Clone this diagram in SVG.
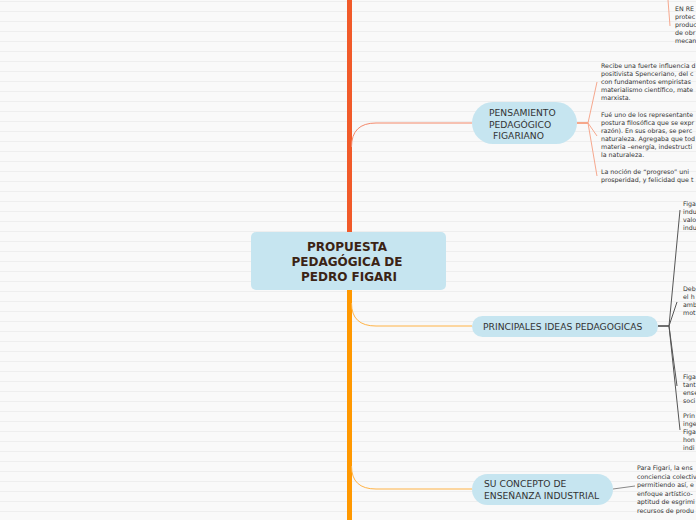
<svg xmlns="http://www.w3.org/2000/svg" width="696" height="520" viewBox="0 0 696 520">
<defs>
<pattern id="bg" width="10" height="10" patternUnits="userSpaceOnUse">
<rect width="10" height="10" fill="#f9f9f9"/>
<rect y="1" width="10" height="1" fill="#eeeeee"/>
</pattern>
<style>
.node{fill:#c6e5f0}
.lbl{font-family:"DejaVu Sans",Verdana,sans-serif;font-size:9.2px;fill:#333}
.root{font-family:"DejaVu Sans",Verdana,sans-serif;font-size:12px;font-weight:bold;fill:#3b2314;text-anchor:middle}
.sm{font-family:"DejaVu Sans",Verdana,sans-serif;font-size:6.3px;fill:#333}
.c1{fill:none;stroke:#f4896b;stroke-width:1}
.c2{fill:none;stroke:#ffb347;stroke-width:1}
.f1{fill:none;stroke:#f6a88e;stroke-width:1}
.f2{fill:none;stroke:#555;stroke-width:1}
.f3{fill:none;stroke:#888;stroke-width:1}
</style>
</defs>
<rect width="696" height="520" fill="url(#bg)"/>

<g id="connectors">
<rect x="347" y="0" width="5" height="233" fill="#f15a29"/>
<rect x="347" y="289" width="5" height="231" fill="#ff9800"/>
<path class="c1" d="M351.5,147 Q351.5,123 376,123 L472,123"/>
<path class="c2" d="M351.5,303 Q351.5,326 376,326 L472,326"/>
<path class="c2" d="M351.5,466 Q351.5,489 376,489 L472,489"/>
<path d="M577,123 L588,123" stroke="#f4703e" stroke-width="1.2" fill="none"/>
<path class="f1" d="M588,123 L597,82 M588,123 L597,136 M588,123 L597,176"/>
<path class="f1" d="M668,0 L670,26"/>
<path d="M658,326 L669,326" stroke="#111" stroke-width="1.2" fill="none"/>
<path class="f2" d="M669,326 L680,210 M669,326 L677,302 M669,326 L677,386 M669,326 L680,430"/>
<path class="f3" d="M613,489 L635,486"/>
</g>

<g id="root">
<rect x="251" y="232" width="195" height="58" rx="5" class="node"/>
<text class="root"><tspan x="347" y="251">PROPUESTA</tspan><tspan x="347" y="266">PEDAGÓGICA DE</tspan><tspan x="349" y="281">PEDRO FIGARI</tspan></text>
</g>

<g id="pensamiento">
<rect x="472" y="102" width="105" height="42" rx="21" class="node"/>
<text class="lbl"><tspan x="489" y="116">PENSAMIENTO</tspan><tspan x="489" y="127.5">PEDAGÓGICO</tspan><tspan x="493" y="139">FIGARIANO</tspan></text>
</g>

<g id="principales">
<rect x="472" y="316" width="186" height="21" rx="10.5" class="node"/>
<text class="lbl" x="483" y="330">PRINCIPALES IDEAS PEDAGOGICAS</text>
</g>

<g id="concepto">
<rect x="472" y="474" width="141" height="31" rx="15.5" class="node"/>
<text class="lbl"><tspan x="484" y="487">SU CONCEPTO DE</tspan><tspan x="484" y="499">ENSEÑANZA INDUSTRIAL</tspan></text>
</g>

<g id="txt-top">
<text class="sm"><tspan x="675" y="11">EN RE</tspan><tspan x="675" y="19">protec</tspan><tspan x="675" y="27">produc</tspan><tspan x="675" y="35">de obr</tspan><tspan x="675" y="43">mecan</tspan></text>
</g>

<g id="txt-p1">
<text class="sm"><tspan x="601" y="68">Recibe una fuerte influencia d</tspan><tspan x="601" y="76">positivista Spenceriano, del c</tspan><tspan x="601" y="84">con fundamentos empiristas</tspan><tspan x="601" y="92">materialismo científico, mate</tspan><tspan x="601" y="100">marxista.</tspan></text>
</g>
<g id="txt-p2">
<text class="sm"><tspan x="601" y="117">Fué uno de los representante</tspan><tspan x="601" y="125">postura filosófica que se expr</tspan><tspan x="601" y="133">razón). En sus obras, se perc</tspan><tspan x="601" y="141">naturaleza. Agregaba que tod</tspan><tspan x="601" y="149">materia –energía, indestructi</tspan><tspan x="601" y="157">la naturaleza.</tspan></text>
</g>
<g id="txt-p3">
<text class="sm"><tspan x="601" y="174">La noción de “progreso”  uni</tspan><tspan x="601" y="182">prosperidad, y felicidad que t</tspan></text>
</g>

<g id="txt-i1">
<text class="sm"><tspan x="683" y="206">Figa</tspan><tspan x="683" y="214">indu</tspan><tspan x="683" y="222">valo</tspan><tspan x="683" y="230">indu</tspan></text>
</g>
<g id="txt-i2">
<text class="sm"><tspan x="683" y="291">Deb</tspan><tspan x="683" y="299">el h</tspan><tspan x="683" y="307">amb</tspan><tspan x="683" y="315">mot</tspan></text>
</g>
<g id="txt-i3">
<text class="sm"><tspan x="683" y="379">Figa</tspan><tspan x="683" y="387">tant</tspan><tspan x="683" y="395">ense</tspan><tspan x="683" y="403">soci</tspan></text>
</g>
<g id="txt-i4">
<text class="sm"><tspan x="683" y="418">Prin</tspan><tspan x="683" y="426">inge</tspan><tspan x="683" y="434">Figa</tspan><tspan x="683" y="442">hon</tspan><tspan x="683" y="450">indi</tspan></text>
</g>

<g id="txt-c1">
<text class="sm"><tspan x="637" y="470">Para Figari, la ens</tspan><tspan x="637" y="478.5">conciencia colectiv</tspan><tspan x="637" y="487">permitiendo así, e</tspan><tspan x="637" y="495.5">enfoque artístico-</tspan><tspan x="637" y="504">aptitud de esgrimi</tspan><tspan x="637" y="512.5">recursos de produ</tspan></text>
</g>
</svg>
